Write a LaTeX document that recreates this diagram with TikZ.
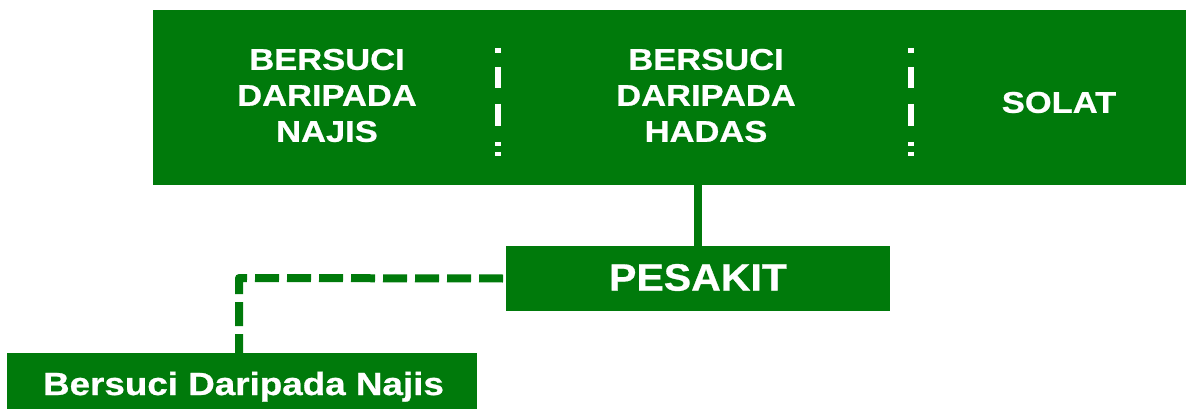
\documentclass[tikz,border=0pt]{standalone}
\usepackage{fontspec}
\setmainfont{Liberation Sans}[FakeStretch=1.15, BoldFeatures={FakeBold=0.8}]
\newfontfamily\pesfont{Liberation Sans}[FakeStretch=1.08, BoldFeatures={FakeBold=0.8}]
\definecolor{grn}{RGB}{0,122,11}
\begin{document}
\begin{tikzpicture}[x=1pt,y=-1pt,
  box/.style={fill=grn, draw=none, inner sep=0pt, outer sep=0pt},
  coltxt/.style={text=white, font=\fontsize{30}{36}\selectfont\bfseries, align=center, inner sep=0pt},
  conn/.style={draw=grn, line width=8pt},
  dashconn/.style={draw=grn, line width=8pt, dash pattern=on 24pt off 8pt, line join=round},
  sep/.style={draw=white, line width=5.5pt, dash pattern=on 5pt off 14pt on 21pt off 16pt on 22pt off 16pt on 4pt off 6pt on 4pt off 200pt}]
\useasboundingbox (0,0) rectangle (1186,409);
% boxes
\node[box, minimum width=1033pt, minimum height=175pt] (top) at (669.5,97.5) {};
\node[box, minimum width=384pt, minimum height=65pt] (pes) at (698,278.5) {};
\node[box, minimum width=470pt, minimum height=56pt] (bot) at (242,381) {};
% texts
\node[coltxt] (c1) at (327,95.5) {BERSUCI\\DARIPADA\\NAJIS};
\node[coltxt] (c2) at (706,95.5) {BERSUCI\\DARIPADA\\HADAS};
\node[coltxt] (c3) at (1059,102.5) {SOLAT};
\node[text=white, inner sep=0pt, font=\pesfont\fontsize{38}{44}\selectfont\bfseries] (pest) at (698,277.5) {PESAKIT};
\node[text=white, inner sep=0pt, anchor=base, font=\fontsize{32}{38}\selectfont\bfseries] (bott) at (243.5,395) {Bersuci Daripada Najis};
% separators
\coordinate (s1a) at (498,48);
\coordinate (s1b) at (498,158);
\coordinate (s2a) at (911,48);
\coordinate (s2b) at (911,158);
\draw[sep] (s1a) -- (s1b);
\draw[sep] (s2a) -- (s2b);
% connectors
\draw[conn] (pes.north |- top.south) -- (pes.north);
\coordinate (corner) at (239,278);
\draw[dashconn] ([xshift=-3pt]pes.west) -- (corner) -- (corner |- bot.north);
\end{tikzpicture}
\end{document}
